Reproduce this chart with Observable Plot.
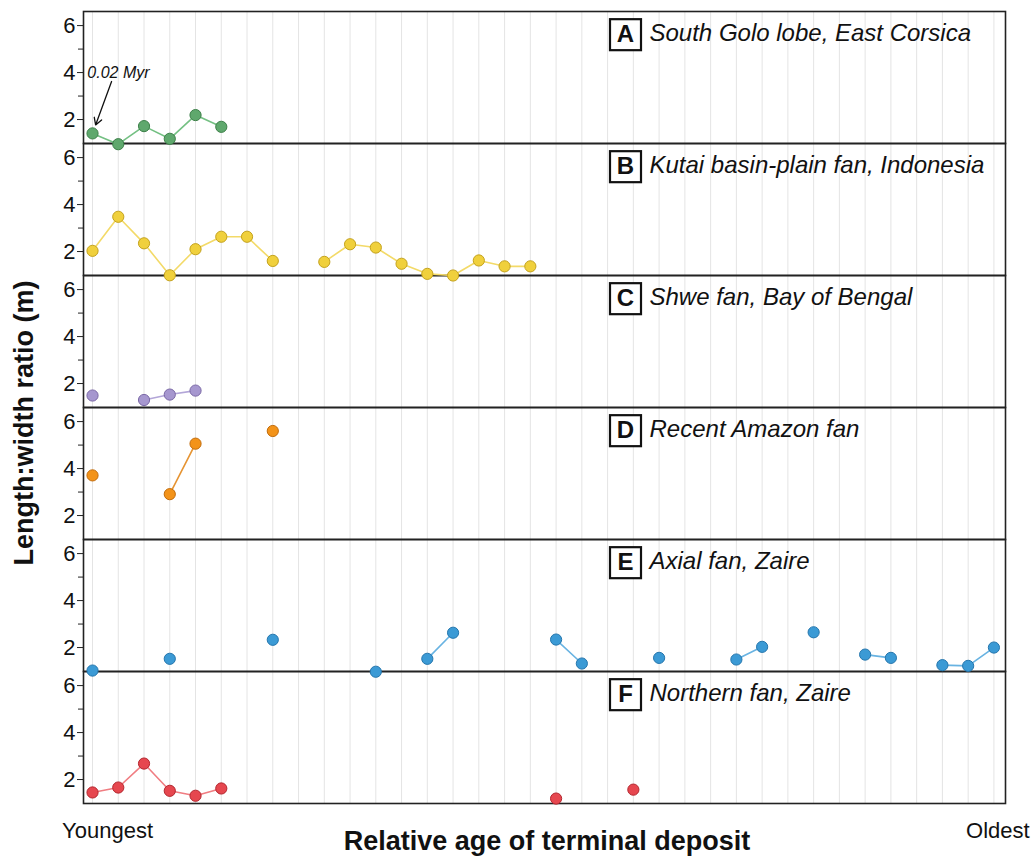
<!DOCTYPE html>
<html><head><meta charset="utf-8">
<script src="https://cdn.jsdelivr.net/npm/d3@7"></script>
<script src="https://cdn.jsdelivr.net/npm/@observablehq/plot@0.6"></script>
<style>
body{margin:0;background:#fff;font-family:"Liberation Sans",Arial,sans-serif}
#chart{width:1036px;height:857px}
</style>
</head><body><div id="chart"></div>
<script>
const panels = ["A","B","C","D","E","F"];
const panelNames = [
  "South Golo lobe, East Corsica",
  "Kutai basin-plain fan, Indonesia",
  "Shwe fan, Bay of Bengal",
  "Recent Amazon fan",
  "Axial fan, Zaire",
  "Northern fan, Zaire"
];
const depositCount = 36;
const endLabels = ["Youngest","Oldest"];
const yMajorTicks = [2,4,6];
const yMinorTicks = [3,5];

// length:width ratio per terminal deposit, ordered youngest -> oldest (null = no deposit)
const ratioA = [1.41, 0.95, 1.72, 1.18, 2.19, 1.69];
const ratioB = [2.03, 3.48, 2.35, 0.99, 2.10, 2.63, 2.63, 1.60, null, 1.56, 2.31, 2.17, 1.48, 1.05, 0.98, 1.62, 1.37, 1.37];
const ratioC = [1.49, null, 1.30, 1.53, 1.70];
const ratioD = [3.71, null, null, 2.91, 5.06, null, null, 5.60];
const ratioE = [1.02, null, null, 1.52, null, null, null, 2.33, null, null, null, 0.97, null, 1.52, 2.63, null, null, null,
                2.34, 1.32, null, null, 1.56, null, null, 1.49, 2.03, null, 2.65, null, 1.70, 1.56, null, 1.25, 1.22, 2.00];
const ratioF = [1.45, 1.66, 2.68, 1.52, 1.31, 1.62, null, null, null, null, null, null, null, null, null, null, null, null,
                1.19, null, null, 1.57];

const dotFill   = ["#5fa86d","#f0d03c","#a697cf","#f39319","#3b9ad5","#e6474f"];
const dotStroke = ["#3d8049","#c4a21d","#7a68a6","#c26c0c","#2576ad","#b3262e"];
const lineColor = ["#74c083","#f3da68","#b3a6d8","#e69433","#68b3e2","#f07d82"];

const annotationText = "0.02 Myr";
const annotationPos = {x: -0.2, y: 4.0};
const arrowStart = {x: 0.74, y: 3.62};

const allSeries = [ratioA, ratioB, ratioC, ratioD, ratioE, ratioF];
const rows = [];
allSeries.forEach((vals, i) => vals.forEach((v, idx) => rows.push({panel: panels[i], pi: i, idx, v})));
const dots = rows.filter(d => d.v != null);
const labelRows = panels.map((p, i) => ({panel: p, name: panelNames[i]}));
const youngRows = [{panel: "F", idx: 0, label: endLabels[0]}];
const oldRows = [{panel: "F", idx: depositCount - 1, label: endLabels[1]}];

const font = '"Liberation Sans", Arial, sans-serif';

const plot = Plot.plot({
  width: 1036,
  height: 857,
  marginLeft: 83,
  marginRight: 31,
  marginTop: 10,
  marginBottom: 54,
  style: {fontFamily: font, background: "#fff", overflow: "visible"},
  x: {domain: [-0.35, 35.45], axis: null},
  y: {domain: [0.98, 6.6], axis: null},
  fy: {domain: panels, axis: null, padding: 0},
  color: {type: "identity"},
  marks: [
    Plot.ruleX(d3.range(depositCount), {stroke: "#e4e4e4", strokeWidth: 1}),
    Plot.axisY({ticks: yMajorTicks, tickSize: 6, tickPadding: 2, label: null, stroke: "#222",
                tickFormat: d => String(d), fill: "#111"}),
    Plot.axisY({ticks: yMinorTicks, tickSize: 5, tickFormat: () => "", label: null, stroke: "#222"}),
    Plot.frame({stroke: "#222", strokeWidth: 1.6}),
    Plot.line(rows, {x: "idx", y: "v", fy: "panel", z: "panel", stroke: d => lineColor[d.pi], strokeWidth: 1.6}),
    Plot.dot(dots, {x: "idx", y: "v", fy: "panel", r: 5.6, fill: d => dotFill[d.pi], stroke: d => dotStroke[d.pi], strokeWidth: 1}),
    Plot.text(labelRows, {fy: "panel", text: "panel", frameAnchor: "top-left", dx: 542, dy: 23, lineAnchor: "middle",
                          fontWeight: "bold", fontSize: 24, textAnchor: "middle", fill: "#111"}),
    Plot.text(labelRows, {fy: "panel", text: "name", frameAnchor: "top-left", dx: 566, dy: 22, lineAnchor: "middle",
                          fontStyle: "italic", fontSize: 24, textAnchor: "start", fill: "#111"}),
    Plot.text(youngRows, {fy: "panel", x: "idx", text: "label", frameAnchor: "bottom", dx: 15, dy: 27, lineAnchor: "middle",
                          fontSize: 22, fill: "#111", textAnchor: "middle"}),
    Plot.text(oldRows, {fy: "panel", x: "idx", text: "label", frameAnchor: "bottom", dx: 4, dy: 27, lineAnchor: "middle",
                          fontSize: 22, fill: "#111", textAnchor: "middle"}),
    Plot.text([{panel: "A"}], {fy: "panel", x: () => annotationPos.x, y: () => annotationPos.y, text: () => annotationText,
                          fontStyle: "italic", fontSize: 16, textAnchor: "start", fill: "#111"}),
    Plot.arrow([{panel: "A"}], {fy: "panel", x1: () => arrowStart.x, y1: () => arrowStart.y, x2: () => 0, y2: () => ratioA[0],
                          insetEnd: 9, stroke: "#111", strokeWidth: 1.3, headLength: 9})
  ]
});

const container = document.getElementById("chart");
container.appendChild(plot);
const svg = d3.select(plot);

// larger y tick labels, as in the reference
svg.selectAll("text").filter(function() { return /^[246]$/.test(this.textContent.trim()); })
  .attr("font-size", 22).style("font-size", "22px").style("fill", "#111");
svg.selectAll('g[aria-label="y-axis tick label"]').attr("font-size", 22).style("font-size", "22px");

// boxes around panel letters
svg.selectAll("text").filter(function() { return panels.includes(this.textContent); }).each(function() {
  const node = this;
  const b = node.getBBox();
  const size = 31;
  const cx = b.x + b.width / 2, cy = b.y + b.height / 2;
  const rect = document.createElementNS("http://www.w3.org/2000/svg", "rect");
  rect.setAttribute("x", cx - size / 2);
  rect.setAttribute("y", cy - size / 2 + 1);
  rect.setAttribute("width", size);
  rect.setAttribute("height", size);
  if (node.getAttribute("transform")) rect.setAttribute("transform", node.getAttribute("transform"));
  rect.setAttribute("fill", "#fff");
  rect.setAttribute("stroke", "#111");
  rect.setAttribute("stroke-width", 2.2);
  node.parentNode.insertBefore(rect, node);
});

// overall axis titles
svg.append("text").text("Relative age of terminal deposit")
  .attr("x", 547).attr("y", 850).attr("text-anchor", "middle")
  .attr("font-family", font).attr("font-weight", "bold").attr("font-size", 27).attr("fill", "#111");
svg.append("text").text("Length:width ratio (m)")
  .attr("transform", "translate(33,423) rotate(-90)").attr("text-anchor", "middle")
  .attr("font-family", font).attr("font-weight", "bold").attr("font-size", 27).attr("fill", "#111");
</script></body></html>
